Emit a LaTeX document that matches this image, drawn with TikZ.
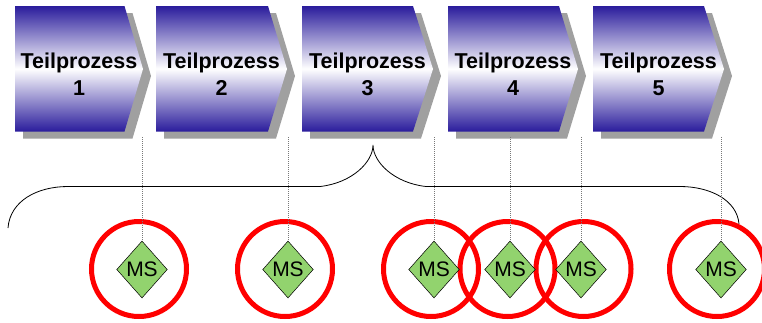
\documentclass[tikz,border=0pt]{standalone}
\usepackage{fontspec}
\setmainfont{Liberation Sans}
\usetikzlibrary{shapes.geometric}

\definecolor{tpblue}{RGB}{42,28,156}
\definecolor{tpshadow}{RGB}{160,160,160}
\definecolor{msgreen}{RGB}{146,211,110}
\definecolor{msred}{RGB}{255,0,0}
\definecolor{guide}{RGB}{120,120,120}

% process step: left edge, x where the top edge ends, x of the tip, label number
\newcommand\tpstep[5]{%
  \fill[tpshadow] ({#1+8},{6+7}) -- ({#2+8},{6+7}) -- ({#3+8},{69+7})
    -- ({#2+8},{131.5+7}) -- ({#1+8},{131.5+7}) -- cycle;
  \shade[top color=tpblue, bottom color=tpblue, middle color=white]
    (#1,6) -- (#2,6) -- (#3,69) -- (#2,131.5) -- (#1,131.5) -- cycle;
  \node[steptext] (#5) at ({(#1+#3)/2},74) {Teilprozess\\#4};
}

\tikzset{
  steptext/.style={font=\bfseries\fontsize{21.5pt}{27pt}\selectfont, align=center, inner sep=0pt},
  milestone/.style={diamond, draw=black, line width=0.5pt, fill=msgreen,
    minimum width=50.6pt, minimum height=57pt, inner sep=0pt,
    font=\fontsize{21pt}{25pt}\selectfont},
  ring/.style={circle, draw=msred, line width=5pt, minimum size=95pt, inner sep=0pt},
  guideline/.style={draw=guide, line width=0.6pt, dash pattern=on 0.8pt off 1.2pt},
  bracket/.style={draw=black, line width=0.8pt}
}

\begin{document}
\begin{tikzpicture}[x=1pt, y=-1pt]
  \useasboundingbox (0,0) rectangle (762,322);

  % process chain
  \tpstep{15}{124.5}{143}{1}{tp1}
  \tpstep{156}{268}{287}{2}{tp2}
  \tpstep{302}{413}{433}{3}{tp3}
  \tpstep{448}{559}{578}{4}{tp4}
  \tpstep{593}{704}{724}{5}{tp5}

  % brace under the chain
  \draw[bracket] (8,228) .. controls (10,201) and (37,186.5) .. (68,186.5)
    -- (320,186.5) .. controls (352,183) and (373,162) .. (373,145)
    .. controls (373,162) and (394,183) .. (426,186.5)
    -- (680,186.5) .. controls (710,186.5) and (737,200) .. (739,224);

  % drop points of the milestone guides
  \coordinate (g1) at (142,137);
  \coordinate (g2) at (288,137);
  \coordinate (g3) at (434,137);
  \coordinate (g4) at (510,137);
  \coordinate (g5) at (581,137);
  \coordinate (g6) at (721,137);

  % milestone positions
  \coordinate (p1) at (142,269.5);
  \coordinate (p2) at (288,269.5);
  \coordinate (p3) at (434,269.5);
  \coordinate (p4) at (510,269.5);
  \coordinate (p5) at (581,269.5);
  \coordinate (p6) at (721,269.5);

  % red rings
  \node[ring] (r1) at (139,269) {};
  \node[ring] (r2) at (285,269) {};
  \node[ring] (r3) at (431,269) {};
  \node[ring] (r4) at (507.5,269) {};
  \node[ring] (r5) at (583.5,269) {};
  \node[ring] (r6) at (717,269) {};

  % milestones
  \foreach \i in {1,...,6} {
    \node[milestone] (ms\i) at (p\i) {MS};
  }

  % guides from the chain down to the milestones
  \foreach \i in {1,...,6} {
    \draw[guideline] (g\i) -- (ms\i.north);
  }
\end{tikzpicture}
\end{document}
